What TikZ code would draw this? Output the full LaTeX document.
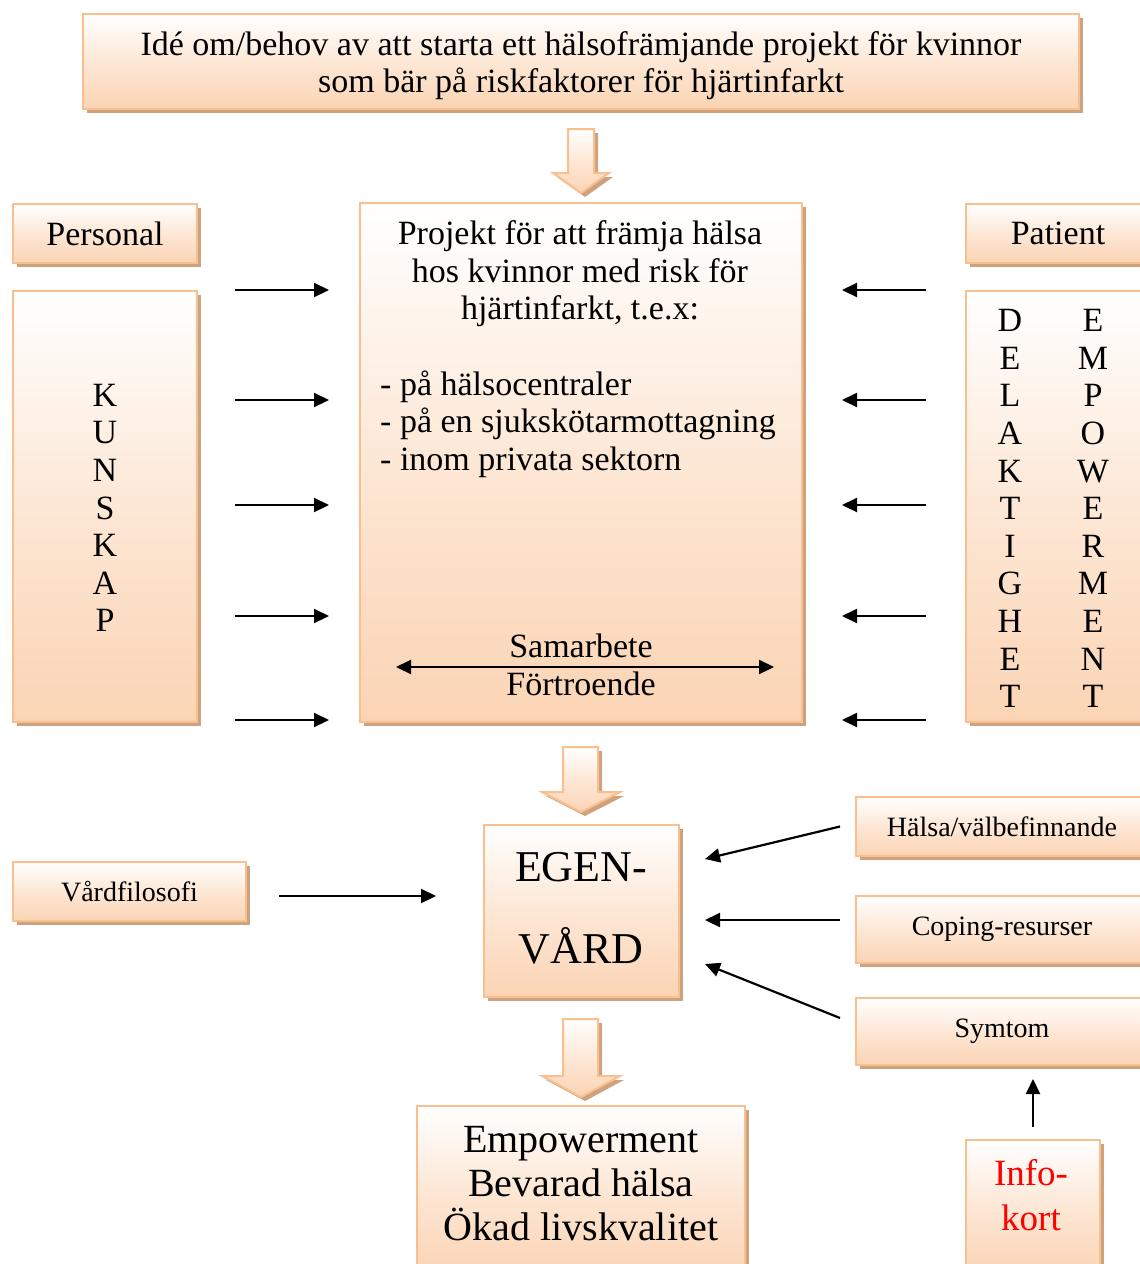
\documentclass[tikz,border=0pt]{standalone}
\usepackage{fontspec}
\setmainfont{Liberation Serif}
\usetikzlibrary{arrows.meta,shadows}
\definecolor{boxline}{HTML}{F9BF8F}
\definecolor{boxfill}{HTML}{FBD4B4}
\definecolor{boxshade}{HTML}{CDA27F}
\newcommand{\fs}[2]{\fontsize{#1}{#2}\selectfont}

\begin{document}
\begin{tikzpicture}[x=1pt,y=-1pt,>={Triangle[length=15pt,width=14pt]},
    box/.style={draw=boxline,line width=2pt,top color=white,bottom color=boxfill,middle color=boxfill!55,
      drop shadow={shadow xshift=4pt,shadow yshift=-4pt,fill=boxshade,opacity=1},
      inner sep=0pt,align=center,font=\fs{34}{37.6}},
    barrow/.style={draw=boxline,line width=2pt,top color=white,bottom color=boxfill,middle color=boxfill!55,
      drop shadow={shadow xshift=4pt,shadow yshift=-4pt,fill=boxshade,opacity=1}},
    txt/.style={inner sep=0pt,align=center,font=\fs{34}{37.6}},
    small/.style={font=\fs{28}{32}},
    conn/.style={->,line width=2.2pt}]
  \useasboundingbox (0,0) rectangle (1140,1264);
  \node[box,minimum width=996pt,minimum height=95pt] (idea) at (581,61.5) {};
  \node[txt] (ideatext) at (581,65.5)
    {Idé om/behov av att starta ett hälsofrämjande projekt för kvinnor\\som bär på riskfaktorer för hjärtinfarkt};
  \path[barrow] (568,129) -- (594,129) -- (594,173) -- (609,173) -- (581,193) -- (553,173) -- (568,173) -- cycle;
  % upper row
  \node[box,minimum width=184pt,minimum height=59pt] (personal) at (105,233.5) {Personal};
  \node[box,minimum width=184pt,minimum height=431pt] (kunskap) at (105,506.5) {};
  \node[box,minimum width=442pt,minimum height=519pt] (proj) at (581,462.5) {};
  \node[box,minimum width=184pt,minimum height=59pt] (patient) at (1058,233.5) {Patient};
  \node[box,minimum width=184pt,minimum height=431pt] (delak) at (1058,506.5) {};
  \node[txt] (kunskaptext) at (105,508) {K\\U\\N\\S\\K\\A\\P};
  \node[txt] (delaktext) at (1010,508.5) {D\\E\\L\\A\\K\\T\\I\\G\\H\\E\\T};
  \node[txt] (empowtext) at (1093,508.5) {E\\M\\P\\O\\W\\E\\R\\M\\E\\N\\T};
  \node[txt] (projtitle) at (580,274) {Projekt för att främja hälsa\\hos kvinnor med risk för\\hjärtinfarkt, t.e.x:};
  \node[txt,anchor=west,align=left] (projlist) at (380,424)
    {- på hälsocentraler\\- på en sjukskötarmottagning\\- inom privata sektorn};
  \node[txt] (samarbete) at (581,646) {Samarbete};
  \node[txt] (fortroende) at (581,684) {Förtroende};
  \draw[<->,line width=2.2pt,shorten <=37pt,shorten >=29pt] (proj.west |- 0,667) -- (proj.east |- 0,667);
  \foreach \y in {290,400,505,616,720} {
    \draw[conn,shorten <=37pt,shorten >=30pt] (kunskap.east |- 0,\y) -- (proj.west |- 0,\y);
    \draw[conn,shorten <=39pt,shorten >=39pt] (delak.west |- 0,\y) -- (proj.east |- 0,\y);
  }
  \path[barrow] (563,747) -- (598,747) -- (598,792) -- (620,792) -- (581,812) -- (542,792) -- (563,792) -- cycle;
  % egenvard row
  \node[box,minimum width=195pt,minimum height=172pt] (egen) at (581.5,911) {};
  \node[txt,font=\fs{44}{82}] (egentext) at (581,908) {EGEN-\\VÅRD};
  \node[box,small,minimum width=233pt,minimum height=59pt] (vard) at (129.5,891.5) {Vårdfilosofi};
  \node[box,small,minimum width=292pt,minimum height=59pt] (halsa) at (1002,826.5) {Hälsa/välbefinnande};
  \node[box,small,minimum width=292pt,minimum height=67pt] (coping) at (1002,929.5) {Coping-resurser};
  \node[box,small,minimum width=292pt,minimum height=67pt] (symtom) at (1002,1031.5) {Symtom};
  \draw[conn,shorten <=32pt,shorten >=47pt] (vard.east |- 0,896) -- (egen.west |- 0,896);
  \draw[conn] ([xshift=-15pt]halsa.west) -- ([xshift=25pt,yshift=52pt]egen.east);
  \draw[conn] ([xshift=-15pt,yshift=9.5pt]coping.west) -- ([xshift=25pt,yshift=-9pt]egen.east);
  \draw[conn] ([xshift=-15pt,yshift=13.5pt]symtom.west) -- ([xshift=25pt,yshift=-53pt]egen.east);
  \path[barrow] (563,1019) -- (598,1019) -- (598,1076) -- (620,1076) -- (581,1097) -- (542,1076) -- (563,1076) -- cycle;
  % bottom row
  \node[box,minimum width=328pt,minimum height=169pt] (result) at (581,1190.5) {};
  \node[txt,font=\fs{40}{44}] (resulttext) at (581,1184) {Empowerment\\Bevarad hälsa\\Ökad livskvalitet};
  \node[box,minimum width=134pt,minimum height=135pt] (info) at (1033,1207.5) {};
  \node[txt,font=\fs{37}{45},text=red] (infotext) at (1031,1195) {Info-\\kort};
  \draw[conn,shorten <=12pt,shorten >=13pt] (info.north) -- (info.north |- symtom.south);
\end{tikzpicture}
\end{document}
